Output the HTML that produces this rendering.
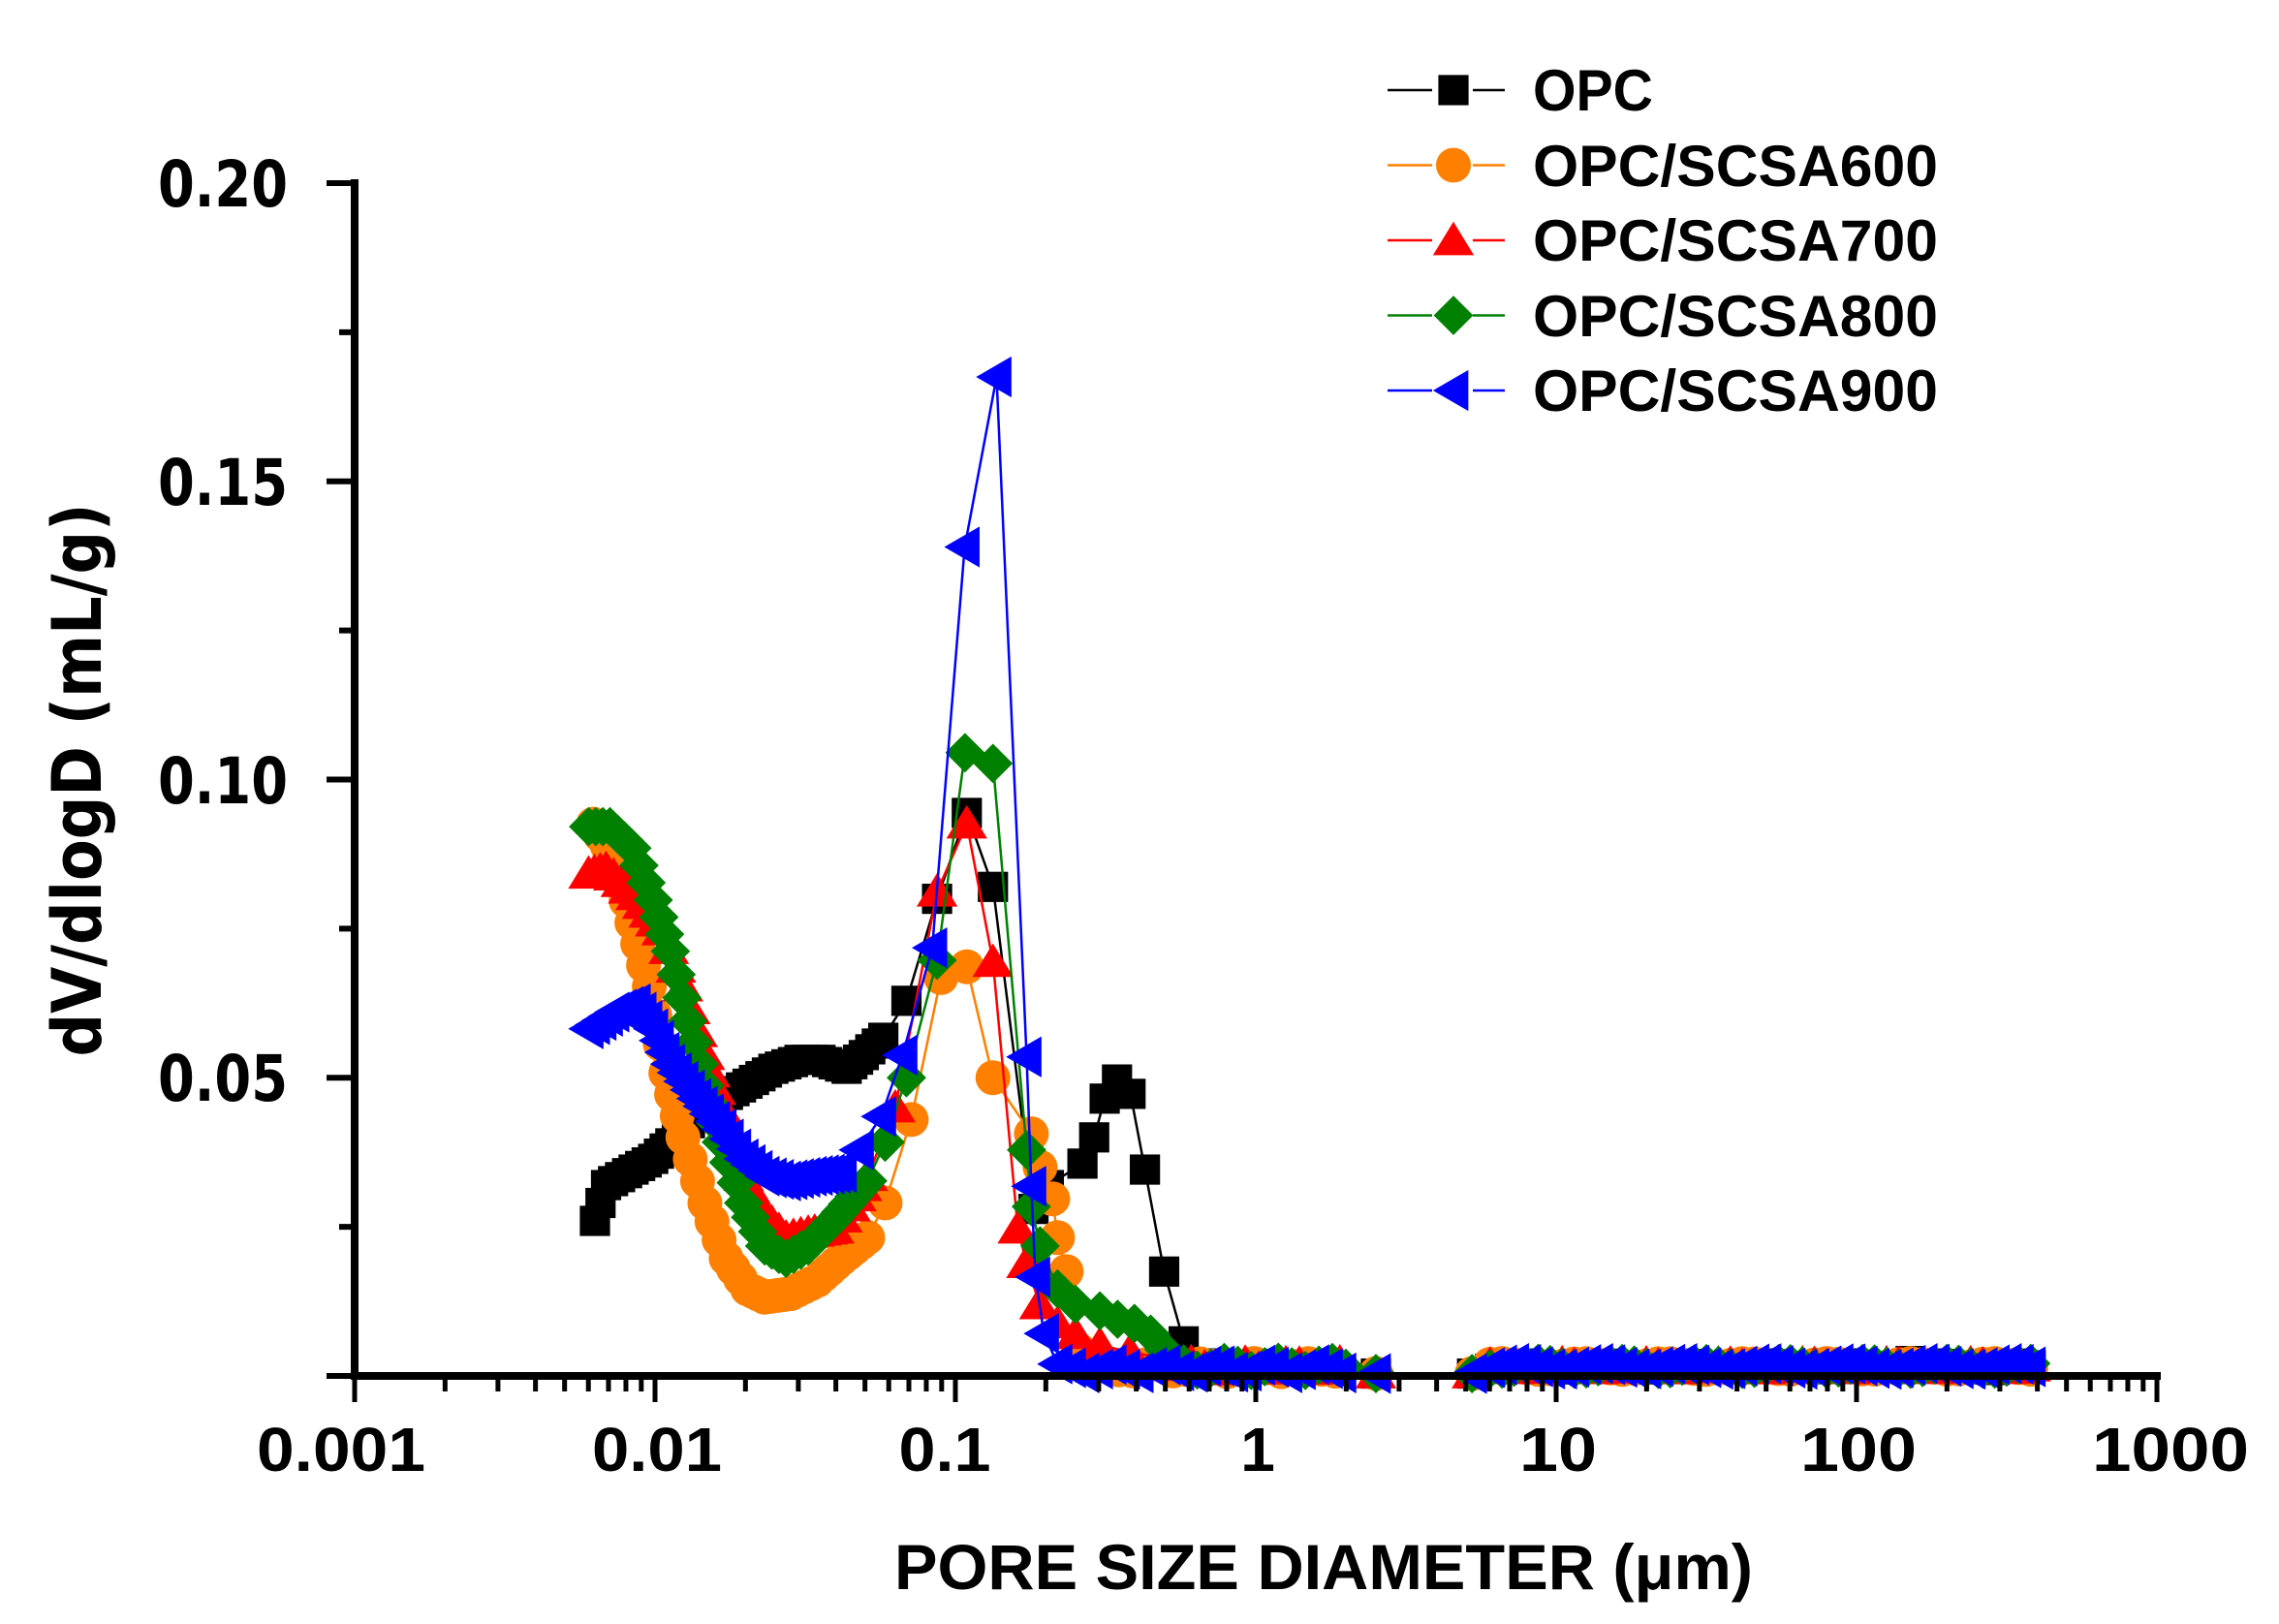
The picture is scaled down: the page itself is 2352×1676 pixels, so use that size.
<!DOCTYPE html>
<html><head><meta charset="utf-8"><style>
html,body{margin:0;padding:0;background:#fff;}
svg{display:block;}
</style></head><body>
<svg id="c" xmlns="http://www.w3.org/2000/svg" width="2352" height="1676" viewBox="0 0 2352 1676">
<rect width="2352" height="1676" fill="#fff"/>
<g id="data"></g>
<g id="axes" stroke="#000" fill="none"></g>
<g font-family="'DejaVu Sans',sans-serif" font-weight="bold" font-size="66" fill="#000" text-anchor="end">
<text x="297" y="213" textLength="134" lengthAdjust="spacingAndGlyphs">0.20</text>
<text x="297" y="521" textLength="134" lengthAdjust="spacingAndGlyphs">0.15</text>
<text x="297" y="829" textLength="134" lengthAdjust="spacingAndGlyphs">0.10</text>
<text x="297" y="1136" textLength="134" lengthAdjust="spacingAndGlyphs">0.05</text>
</g>
<text transform="translate(104,805) rotate(-90)" font-family="'DejaVu Sans',sans-serif" font-weight="bold" font-size="70" text-anchor="middle" textLength="571" lengthAdjust="spacingAndGlyphs">dV/dlogD (mL/g)</text>
<g font-family="'Liberation Sans',sans-serif" font-weight="bold" font-size="64" text-anchor="middle">
<text x="352" y="1518" textLength="174" lengthAdjust="spacingAndGlyphs">0.001</text>
<text x="678" y="1518" textLength="134" lengthAdjust="spacingAndGlyphs">0.01</text>
<text x="975" y="1518" textLength="95" lengthAdjust="spacingAndGlyphs">0.1</text>
<text x="1298" y="1518">1</text>
<text x="1608" y="1518" textLength="80" lengthAdjust="spacingAndGlyphs">10</text>
<text x="1918" y="1518" textLength="120" lengthAdjust="spacingAndGlyphs">100</text>
<text x="2240" y="1518" textLength="162" lengthAdjust="spacingAndGlyphs">1000</text>
</g>
<text x="1366" y="1640" font-family="'Liberation Sans',sans-serif" font-weight="bold" font-size="66" text-anchor="middle" textLength="886" lengthAdjust="spacingAndGlyphs">PORE SIZE DIAMETER  (μm)</text>
<g id="legend"></g>
<g font-family="'Liberation Sans',sans-serif" font-weight="bold" font-size="60">
<text x="1582" y="114" textLength="124" lengthAdjust="spacingAndGlyphs">OPC</text>
<text x="1582" y="192" textLength="418" lengthAdjust="spacingAndGlyphs">OPC/SCSA600</text>
<text x="1582" y="269" textLength="418" lengthAdjust="spacingAndGlyphs">OPC/SCSA700</text>
<text x="1582" y="347" textLength="418" lengthAdjust="spacingAndGlyphs">OPC/SCSA800</text>
<text x="1582" y="424" textLength="418" lengthAdjust="spacingAndGlyphs">OPC/SCSA900</text>
</g>
</svg>
<script>
(function(){
var NS="http://www.w3.org/2000/svg";
var DEC=310;
function X(l){return 366+DEC*(l+3);}
function Y(v){return 1420-v*6155;}
function el(p,t,a){var e=document.createElementNS(NS,t);for(var k in a)e.setAttribute(k,a[k]);p.appendChild(e);return e;}
var ax=document.getElementById('axes');
el(ax,'line',{x1:366,y1:185,x2:366,y2:1424,'stroke-width':8});
el(ax,'line',{x1:362,y1:1420,x2:X(3)+4,y2:1420,'stroke-width':8});
for(var i=0;i<=8;i++){var y=Y(i*0.025);el(ax,'line',{x1:(i%2==0?337:350),y1:y,x2:366,y2:y,'stroke-width':6});}
for(var d=-3;d<=3;d++){for(var m=1;m<=9;m++){if(d==3&&m>1)break;var x=X(d+Math.log10(m));el(ax,'line',{x1:x,y1:1420,x2:x,y2:(m==1?1447:1436),'stroke-width':5});}}
function marker(g,type,x,y,col,s){
 s=s||1;
 if(type=='sq'){var h=13*s;el(g,'rect',{x:x-h,y:y-h,width:2*h,height:2*h,fill:col});}
 else if(type=='ci'){el(g,'circle',{cx:x,cy:y,r:15*s,fill:col});}
 else if(type=='tu'){var h=16*s;el(g,'polygon',{points:(x)+','+(y-h)+' '+(x+h*1.1)+','+(y+h*0.8)+' '+(x-h*1.1)+','+(y+h*0.8),fill:col});}
 else if(type=='di'){var h=17*s;el(g,'polygon',{points:x+','+(y-h)+' '+(x+h)+','+y+' '+x+','+(y+h)+' '+(x-h)+','+y,fill:col});}
 else if(type=='tl'){var h=16*s;el(g,'polygon',{points:(x-h*1.1)+','+y+' '+(x+h*0.8)+','+(y-h*1.1)+' '+(x+h*0.8)+','+(y+h*1.1),fill:col});}
}
function dens(pts,step){var out=[];for(var i=0;i<pts.length-1;i++){var a=pts[i],b=pts[i+1];var n=Math.max(1,Math.round((b[0]-a[0])/step));for(var k=0;k<n;k++){var t=k/n;out.push([a[0]+(b[0]-a[0])*t,a[1]+(b[1]-a[1])*t]);}}out.push(pts[pts.length-1]);return out;}
function tail(start,seed,vv){var o=[];for(var l=start;l<=0.3;l+=0.045){o.push([l,vv+0.0007*Math.sin(l*37+seed)]);}
 o.push([0.4,0.0004]);o.push([0.72,0.0004]);
 for(var l=0.78;l<=2.6;l+=0.04){o.push([l,0.0016+0.0005*Math.sin(l*23+seed)]);}return o;}
var S=[
{c:'#000',m:'sq',left:[[-2.2,.026],[-2.163,.032],[-2.093,.034],[-2.006,.0364],[-1.949,.039],[-1.862,.0435],[-1.779,.0465],[-1.692,.049],[-1.606,.0515],[-1.519,.053],[-1.449,.053],[-1.362,.0515],[-1.305,.0538],[-1.24,.0567]],
 mid:[[-1.163,.0629],[-1.061,.080],[-0.962,.0944],[-0.875,.082],[-0.74,.028],[-0.689,.032],[-0.577,.0356],[-0.538,.040],[-0.503,.0465],[-0.462,.0497],[-0.417,.0473],[-0.369,.0346],[-0.305,.0175],[-0.24,.0058],[-0.17,.002]],tv:.0014,extra:[[2.18,.0025],[2.3,.002],[2.45,.001]]},
{c:'#ff8000',m:'ci',left:[[-2.205,.0925],[-2.135,.087],[-2.077,.076],[-2.019,.0653],[-1.964,.0508],[-1.907,.040],[-1.834,.029],[-1.763,.0197],[-1.692,.0146],[-1.635,.0132],[-1.548,.0138],[-1.46,.016],[-1.378,.0197],[-1.292,.0232]],
 mid:[[-1.234,.029],[-1.147,.043],[-1.048,.0668],[-0.962,.0686],[-0.875,.050],[-0.747,.0406],[-0.718,.035],[-0.676,.0297],[-0.66,.0232],[-0.631,.0175],[-0.59,.0044]],tv:.0014},
{c:'#ff0000',m:'tu',left:[[-2.221,.0842],[-2.163,.085],[-2.064,.0806],[-1.978,.0747],[-1.907,.0653],[-1.834,.0538],[-1.779,.045],[-1.705,.0335],[-1.635,.027],[-1.564,.0232],[-1.49,.024],[-1.404,.0247],[-1.349,.0284],[-1.292,.0335]],
 mid:[[-1.2,.045],[-1.061,.0812],[-0.962,.0926],[-0.875,.0694],[-0.792,.0247],[-0.763,.0189],[-0.72,.012],[-0.66,.0088],[-0.6,.007],[-0.519,.0052],[-0.42,.004],[-0.305,.003]],tv:.0016},
{c:'#008000',m:'di',left:[[-2.221,.0921],[-2.15,.0921],[-2.077,.0885],[-2.006,.0798],[-1.949,.0712],[-1.891,.0595],[-1.834,.0487],[-1.779,.0392],[-1.705,.029],[-1.635,.0218],[-1.564,.0197],[-1.49,.0218],[-1.404,.0262],[-1.292,.0327]],
 mid:[[-1.234,.0392],[-1.163,.050],[-1.061,.0697],[-0.968,.1045],[-0.875,.1027],[-0.763,.0379],[-0.747,.0284],[-0.718,.0218],[-0.66,.0146],[-0.6,.012],[-0.519,.0109],[-0.46,.0095],[-0.404,.0088],[-0.35,.007],[-0.305,.0044],[-0.24,.002]],tv:.0016},
{c:'#0000ff',m:'tl',left:[[-2.221,.0582],[-2.135,.061],[-2.064,.0624],[-2.006,.0582],[-1.949,.0523],[-1.862,.0465],[-1.779,.0414],[-1.705,.0364],[-1.635,.0335],[-1.564,.0327],[-1.478,.0335],[-1.378,.0341]],
 mid:[[-1.321,.0379],[-1.247,.0435],[-1.176,.0538],[-1.077,.0718],[-0.969,.139],[-0.863,.1675],[-0.763,.0535],[-0.747,.0318],[-0.734,.0166],[-0.705,.0071],[-0.66,.002]],tv:.0012}
];
var dg=document.getElementById('data');
S.forEach(function(s,idx){
 var last=s.mid[s.mid.length-1][0];
 var pts=dens(s.left,0.022).concat(s.mid).concat(tail(last+0.045,idx*1.7,s.tv)).concat(s.extra||[]);
 pts.sort(function(a,b){return a[0]-b[0];});
 var g=el(dg,'g',{});
 var d='';pts.forEach(function(p,i){d+=(i?'L':'M')+X(p[0]).toFixed(1)+','+Y(p[1]).toFixed(1);});
 el(g,'path',{d:d,fill:'none',stroke:s.c,'stroke-width':2.5});
 pts.forEach(function(p){marker(g,s.m,X(p[0]),Y(Math.max(p[1],0.0004)),s.c,1.2);});
});
var lg=document.getElementById('legend');
S.forEach(function(s,i){var y=93+77.5*i;
 el(lg,'line',{x1:1432,y1:y,x2:1478,y2:y,stroke:s.c,'stroke-width':2.5});
 el(lg,'line',{x1:1520,y1:y,x2:1553,y2:y,stroke:s.c,'stroke-width':2.5});
 marker(lg,s.m,1500,y,s.c,1.2);
});
})();
</script>
</body></html>
